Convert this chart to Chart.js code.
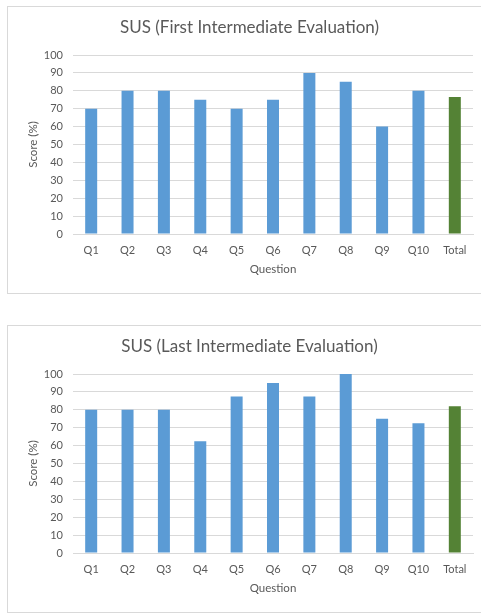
<!DOCTYPE html>
<html>
<head>
<meta charset="utf-8">
<script src="https://cdn.jsdelivr.net/npm/chart.js@4/dist/chart.umd.min.js"></script>
<style>
  html, body { margin: 0; padding: 0; background: #fff; overflow: hidden; width: 481px; height: 613px; }
  .frame { position: absolute; left: 7px; width: 483px; height: 286px; border: 1px solid #d9d9d9; background: #fff; }
  #f1 { top: 6px; }
  #f2 { top: 325px; }
  canvas { display: block; }
</style>
</head>
<body>
<div class="frame" id="f1"><canvas id="c1" width="483" height="286"></canvas></div>
<div class="frame" id="f2"><canvas id="c2" width="483" height="286"></canvas></div>
<script>
// Questionnaire items plus the overall score
const categories = ['Q1', 'Q2', 'Q3', 'Q4', 'Q5', 'Q6', 'Q7', 'Q8', 'Q9', 'Q10', 'Total'];
const firstEvalScores = [70, 80, 80, 75, 70, 75, 90, 85, 60, 80, 76.5];
const lastEvalScores = [80, 80, 80, 62.5, 87.5, 95, 87.5, 100, 75, 72.5, 82];
const yTicks = [0, 10, 20, 30, 40, 50, 60, 70, 80, 90, 100];

const FONT = 'Lato';
const TEXT = '#595959';
const GRID = '#d9d9d9';
const QUESTION_BLUE = '#5b9bd5';
const TOTAL_GREEN = '#548235';

function barColors() {
  return categories.map(c => c === 'Total' ? TOTAL_GREEN : QUESTION_BLUE);
}

function makeChart(id, title, values) {
  return new Chart(document.getElementById(id), {
    type: 'bar',
    data: {
      labels: categories,
      datasets: [{
        data: values,
        backgroundColor: barColors(),
        borderWidth: 0,
        categoryPercentage: 1,
        barPercentage: 0.33
      }]
    },
    options: {
      responsive: false,
      animation: false,
      devicePixelRatio: 1,
      layout: { padding: 0 },
      plugins: {
        legend: { display: false },
        tooltip: { enabled: false },
        title: {
          display: true,
          text: title,
          color: TEXT,
          font: { family: FONT, size: 17, weight: 'normal' },
          padding: { top: 10.8, bottom: 16.8 }
        }
      },
      scales: {
        x: {
          grid: { display: false, drawTicks: false },
          border: { display: true, color: GRID, width: 1 },
          ticks: { color: TEXT, font: { family: FONT, size: 11 }, padding: 9.4, maxRotation: 0, autoSkip: false },
          title: { display: true, text: 'Question', color: TEXT, font: { family: FONT, size: 11.5 }, padding: { top: 0, bottom: 17.1 } },
          afterFit: s => { s.height = 59; }
        },
        y: {
          min: 0,
          max: 100,
          afterBuildTicks: s => { s.ticks = yTicks.map(v => ({ value: v })); },
          grid: { color: GRID, lineWidth: 1, drawTicks: false },
          border: { display: false },
          ticks: { color: TEXT, font: { family: FONT, size: 11 }, padding: 10 },
          title: { display: true, text: 'Score (%)', color: TEXT, font: { family: FONT, size: 11.5 }, padding: { top: 18.1, bottom: 0 } },
          afterFit: s => { s.width = 65; }
        },
        // empty right-hand margin so the title stays centred on the whole frame
        gutter: {
          type: 'linear',
          position: 'right',
          grid: { display: false, drawTicks: false },
          border: { display: false },
          ticks: { display: false },
          afterFit: s => { s.width = 18; }
        }
      }
    }
  });
}

makeChart('c1', 'SUS (First Intermediate Evaluation)', firstEvalScores);
makeChart('c2', 'SUS (Last Intermediate Evaluation)', lastEvalScores);
</script>
</body>
</html>
